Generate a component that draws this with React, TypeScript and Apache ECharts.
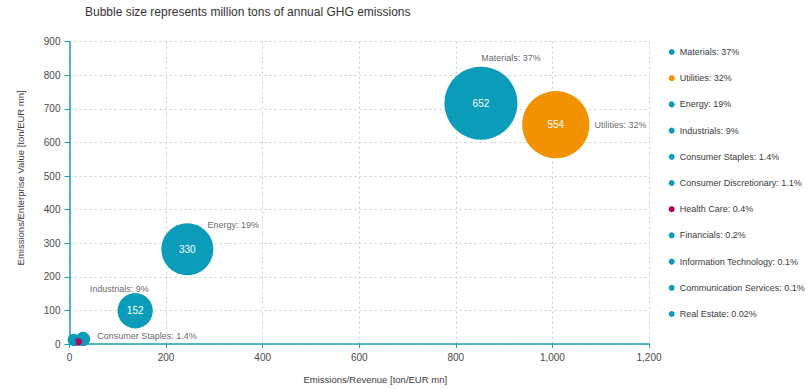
import React, { useEffect, useRef } from 'react';
import * as echarts from 'echarts';

// ---- Data ----
const sectors = [
  'Materials',
  'Utilities',
  'Energy',
  'Industrials',
  'Consumer Staples',
  'Consumer Discretionary',
  'Health Care',
  'Financials',
  'Information Technology',
  'Communication Services',
  'Real Estate',
];
const shares = ['37%', '32%', '19%', '9%', '1.4%', '1.1%', '0.4%', '0.2%', '0.1%', '0.1%', '0.02%'];
// Emissions / Revenue [ton/EUR mn]
const emissionsRevenue = [852, 1007, 244, 136, 28, 9, 18, 5, 8, 10, 12];
// Emissions / Enterprise Value [ton/EUR mn]
const emissionsEV = [717, 653, 282, 99, 15, 12, 6, 5, 3, 4, 3];
// Annual GHG emissions [million tons]
const ghgMt = [652, 554, 330, 152, 25, 19, 7, 3.5, 2, 2, 0.4];
const labeledSectors = ['Materials', 'Utilities', 'Energy', 'Industrials', 'Consumer Staples'];

const xTicks = { min: 0, max: 1200, interval: 200 };
const yTicks = { min: 0, max: 900, interval: 100 };

// ---- Styles ----
const FONT = '"Liberation Sans", Arial, sans-serif';
const TEAL = '#0a9cb9';
const ORANGE = '#f39200';
const MAGENTA = '#b3005c';
const AXIS = '#17a3b4';
const TEXT = '#3a3a3a';
const sectorColor: Record<string, string> = {
  Utilities: ORANGE,
  'Health Care': MAGENTA,
};
const BUBBLE_SCALE = 2.86;
const bubbleSize = (d: number[]) => Math.sqrt(d[2]) * BUBBLE_SCALE;

const labelStyles: Record<string, any> = {
  Materials: { position: 'top', offset: [30, 1] },
  Utilities: { position: 'right', distance: 5 },
  Energy: { position: 'top', offset: [46, 11] },
  Industrials: { position: 'top', offset: [-16, 5] },
  'Consumer Staples': { position: 'right', distance: 7, offset: [0, -3] },
};

export default function App() {
  const ref = useRef<HTMLDivElement>(null);
  useEffect(() => {
    const chart = echarts.init(ref.current!, null, { renderer: 'svg' });

    const bubbleSeries = sectors.map((name, i) => ({
      type: 'scatter',
      name,
      data: [[emissionsRevenue[i], emissionsEV[i], ghgMt[i]]],
      symbolSize: bubbleSize,
      itemStyle: { color: sectorColor[name] || TEAL, opacity: 1 },
      label: {
        show: ghgMt[i] >= 100,
        position: 'inside',
        formatter: (p: any) => String(p.value[2]),
        color: '#ffffff',
        fontSize: 10,
        fontFamily: FONT,
      },
      emphasis: { disabled: true },
      z: 2,
    }));

    const annotationSeries = {
      type: 'scatter',
      name: 'annotations',
      silent: true,
      z: 5,
      symbolSize: bubbleSize,
      itemStyle: { color: 'rgba(0,0,0,0)' },
      emphasis: { disabled: true },
      label: {
        show: true,
        formatter: '{b}',
        color: TEXT,
        fontSize: 9,
        fontFamily: FONT,
      },
      data: labeledSectors.map((name) => {
        const i = sectors.indexOf(name);
        return {
          name: `${name}: ${shares[i]}`,
          value: [emissionsRevenue[i], emissionsEV[i], ghgMt[i]],
          label: labelStyles[name],
        };
      }),
    };

    chart.setOption({
      animation: false,
      title: {
        text: 'Bubble size represents million tons of annual GHG emissions',
        left: 80,
        top: 1,
        textStyle: { fontFamily: FONT, fontSize: 12, fontWeight: 'normal', color: '#333333' },
      },
      legend: {
        orient: 'vertical',
        left: 663.7,
        top: 41.5,
        itemWidth: 6,
        itemHeight: 6,
        itemGap: 15.2,
        icon: 'circle',
        data: sectors.map((name) => ({ name, itemStyle: { color: sectorColor[name] || TEAL } })),
        formatter: (name: string) => `${name}: ${shares[sectors.indexOf(name)]}`,
        textStyle: { fontFamily: FONT, fontSize: 9, lineHeight: 11, color: TEXT },
        selectedMode: false,
      },
      grid: { left: 69.5, right: 160, top: 41.7, bottom: 44 },
      xAxis: {
        type: 'value',
        ...xTicks,
        name: 'Emissions/Revenue [ton/EUR mn]',
        nameLocation: 'middle',
        nameGap: 30,
        nameTextStyle: { fontFamily: FONT, fontSize: 9.5, color: TEXT, padding: [0, 0, 0, 32] },
        axisLine: { show: true, lineStyle: { color: AXIS, width: 1.5 } },
        axisTick: { show: true, length: 4, lineStyle: { color: AXIS } },
        axisLabel: {
          fontFamily: FONT,
          fontSize: 10,
          color: '#4a4a4a',
          margin: 8,
          formatter: (v: number) => v.toLocaleString('en-US'),
        },
        splitLine: { show: true, lineStyle: { color: '#cccccc', type: [2, 3], width: 1 } },
      },
      yAxis: {
        type: 'value',
        ...yTicks,
        name: 'Emissions/Enterprise Value [ton/EUR mn]',
        nameLocation: 'middle',
        nameGap: 44,
        nameRotate: 90,
        nameTextStyle: { fontFamily: FONT, fontSize: 9.5, color: TEXT, padding: [0, 0, 0, 30] },
        axisLine: { show: true, lineStyle: { color: AXIS, width: 1.5 } },
        axisTick: { show: true, length: 5, lineStyle: { color: AXIS } },
        axisLabel: { fontFamily: FONT, fontSize: 10, color: '#4a4a4a', margin: 9 },
        splitLine: { show: true, lineStyle: { color: '#cccccc', type: [2, 3], width: 1 } },
      },
      series: [...bubbleSeries, annotationSeries],
    });

    return () => chart.dispose();
  }, []);

  return (
    <div
      ref={ref}
      style={{ position: 'absolute', left: 0, top: 0, width: 809, height: 389 }}
    />
  );
}
